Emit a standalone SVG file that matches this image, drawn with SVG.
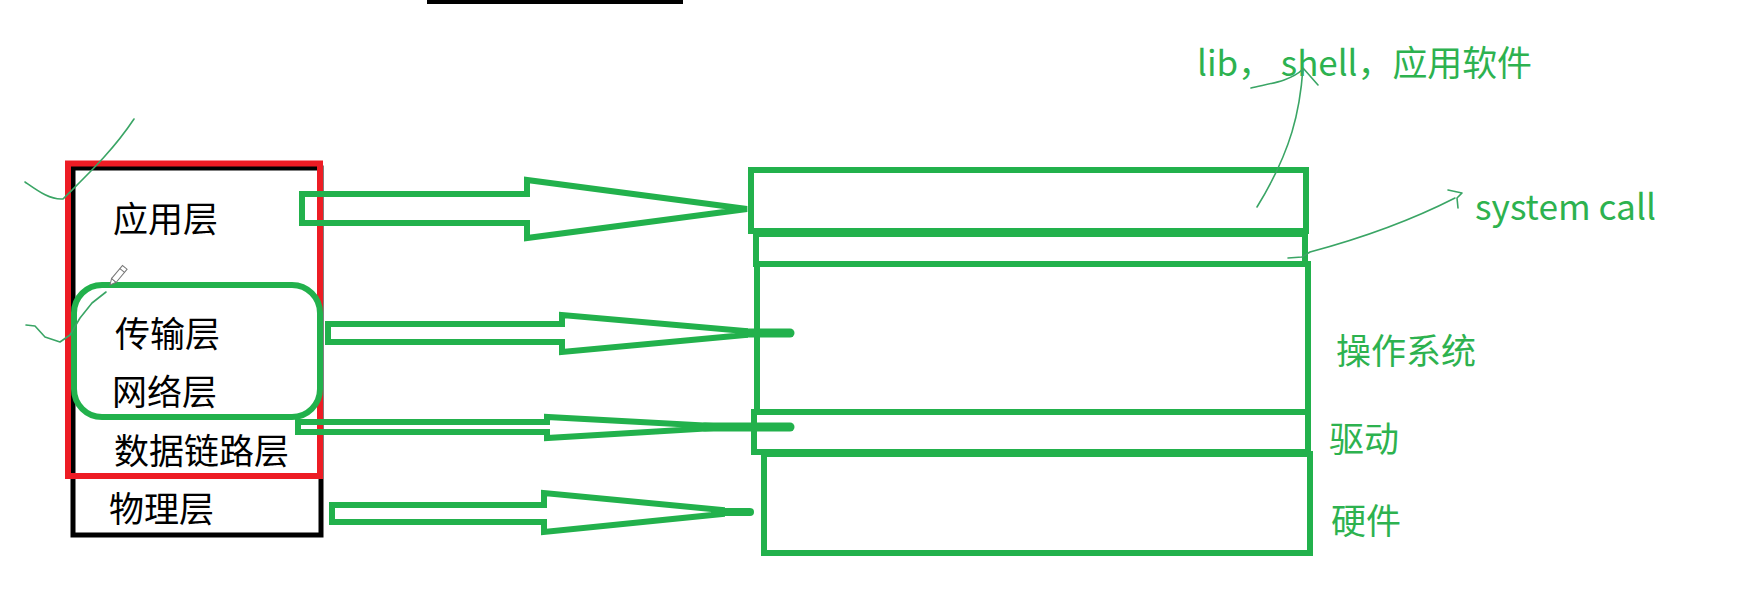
<svg xmlns="http://www.w3.org/2000/svg" width="1743" height="616" viewBox="0 0 1743 616">
<style>
.lbl{font-family:"Noto Sans CJK SC","Noto Sans",sans-serif;font-size:35px;fill:#000;}
.glbl{font-family:"Noto Sans CJK SC","Noto Sans",sans-serif;font-size:35px;fill:#2db24f;}
.gbox{fill:none;stroke:#22b14c;stroke-width:6;}
.arrow{fill:none;stroke:#22b14c;stroke-width:6;stroke-linejoin:miter;}
.stub{fill:none;stroke:#22b14c;stroke-linecap:round;}
.note{fill:none;stroke:#3aa565;stroke-width:1.6;stroke-linecap:round;stroke-linejoin:round;}
</style>
<rect width="1743" height="616" fill="#fff"/>
<rect id="top-bar" x="427" y="0" width="256" height="4" fill="#000"/>

<g id="osi-stack">
  <rect x="73" y="168" width="248" height="367" fill="none" stroke="#000" stroke-width="5"/>
  <rect x="68" y="163.5" width="252" height="312.5" fill="none" stroke="#ed1c24" stroke-width="6"/>
</g>
<g id="tcpip-group">
  <rect x="74" y="285" width="246" height="132" rx="28" ry="28" class="gbox" stroke-width="7"/>
</g>
<g id="layer-app"><text class="lbl" x="113" y="232">应用层</text></g>
<g id="layer-transport"><text class="lbl" x="115" y="347">传输层</text></g>
<g id="layer-network"><text class="lbl" x="112" y="405">网络层</text></g>
<g id="layer-datalink"><text class="lbl" x="114" y="464">数据链路层</text></g>
<g id="layer-physical"><text class="lbl" x="109" y="522">物理层</text></g>

<g id="sys-app">
  <rect x="751" y="170" width="555" height="61" class="gbox" stroke-width="7"/>
</g>
<g id="sys-syscall">
  <rect x="756" y="234" width="549" height="30" class="gbox"/>
</g>
<g id="sys-os">
  <rect x="757" y="264" width="551" height="148" class="gbox"/>
  <text class="glbl" x="1336" y="364">操作系统</text>
</g>
<g id="sys-driver">
  <rect x="754" y="412" width="554" height="40" class="gbox" stroke-width="7"/>
  <text class="glbl" x="1329" y="452">驱动</text>
</g>
<g id="sys-hardware">
  <rect x="764" y="454" width="546" height="99" class="gbox"/>
  <text class="glbl" x="1331" y="534">硬件</text>
</g>
<g id="label-lib">
  <text class="glbl" x="1197" y="76" textLength="335" lengthAdjust="spacingAndGlyphs">lib， shell，应用软件</text>
</g>
<g id="label-syscall">
  <text class="glbl" x="1475" y="220" textLength="181" lengthAdjust="spacingAndGlyphs">system call</text>
</g>

<g id="connectors">
  <polygon class="arrow" points="302,194 527,194 527,180 747,209 527,238 527,223 302,223"/>
  <polygon class="arrow" points="328,324 562,324 562,315 745,331 745,335 562,352 562,342 328,342"/>
  <line class="stub" x1="740" y1="333" x2="790" y2="333" stroke-width="9"/>
  <polygon class="arrow" points="298,422 547,422 547,417 715,426 715,428 547,438 547,432 298,432" stroke-width="5"/>
  <line class="stub" x1="705" y1="427" x2="790" y2="427" stroke-width="9"/>
  <polygon class="arrow" points="332,505 544,505 544,493 722,510 722,514 544,532 544,522 332,522"/>
  <line class="stub" x1="715" y1="512" x2="750" y2="512" stroke-width="8"/>
</g>

<g id="annotations">
  <path class="note" d="M25,182 C38,191 50,200 63,199 C86,176 112,152 134,119"/>
  <path class="note" d="M26,325 L35,326 L45,337 L60,342 L70,335 L80,318 L92,303 L106,292"/>
  <path class="note" d="M1251,88 C1266,84 1290,82 1303,69 M1303,68 L1318,85 M1303,68 C1300,110 1292,150 1257,207"/>
  <path class="note" d="M1288,258 L1302,257 L1310,252 C1340,244 1400,226 1455,198 M1448,190 L1462,193 L1457,198 L1458,208"/>
  <g id="pencil" transform="translate(110,285) rotate(-50)">
    <polygon points="0,0 6,-3 6,3" fill="#fff" stroke="#777" stroke-width="1"/>
    <rect x="6" y="-3" width="17" height="6" fill="#fff" stroke="#777" stroke-width="1"/>
    <line x1="19" y1="-3" x2="19" y2="3" stroke="#777" stroke-width="1"/>
  </g>
</g>
</svg>
